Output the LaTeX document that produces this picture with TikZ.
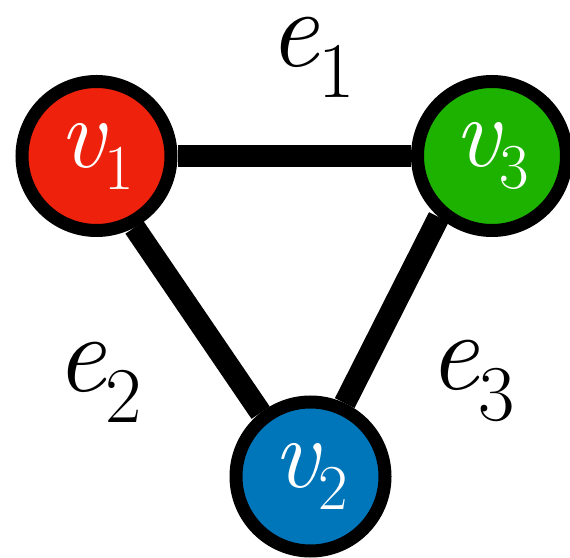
\documentclass[tikz,border=0pt]{standalone}
\usepackage{fontspec}
\setmainfont{Latin Modern Roman}
\usetikzlibrary{positioning}
\definecolor{vred}{HTML}{EE220C}
\definecolor{vgreen}{HTML}{1DB100}
\definecolor{vblue}{HTML}{0076BA}
\newcommand{\vname}[1]{{\fontsize{100}{100}\selectfont\itshape v}\raisebox{-22pt}{\fontsize{64}{64}\selectfont #1}}
\newcommand{\ename}[1]{{\fontsize{112}{112}\selectfont\itshape e}\raisebox{-31pt}{\fontsize{79}{79}\selectfont #1}}

\begin{document}
\begin{tikzpicture}[x=1pt,y=1pt,
  vertex/.style={circle,draw=black,line width=13pt,minimum size=149pt,inner sep=0pt,text=white},
  edge/.style={line width=22pt},
  elabel/.style={anchor=base west,inner sep=0pt}]
  \useasboundingbox (0,0) rectangle (570,557);
  \node[vertex,fill=vred] (v1) at (96.5,401) {\vname{1}};
  \node[vertex,fill=vgreen] (v3) at (492,401) {\vname{3}};
  \node[vertex,fill=vblue] (v2) at (310.5,80.5) {\vname{2}};
  \draw[edge] (v1.east) -- (v3.west);
  \draw[edge] (v1.298) -- (v2.128);
  \draw[edge] (v3.229) -- (v2.65);
  \node[elabel] (e1) at (268,490) {\ename{1}};
  \node[elabel] (e2) at (55,165) {\ename{2}};
  \node[elabel] (e3) at (428,167) {\ename{3}};
\end{tikzpicture}
\end{document}
